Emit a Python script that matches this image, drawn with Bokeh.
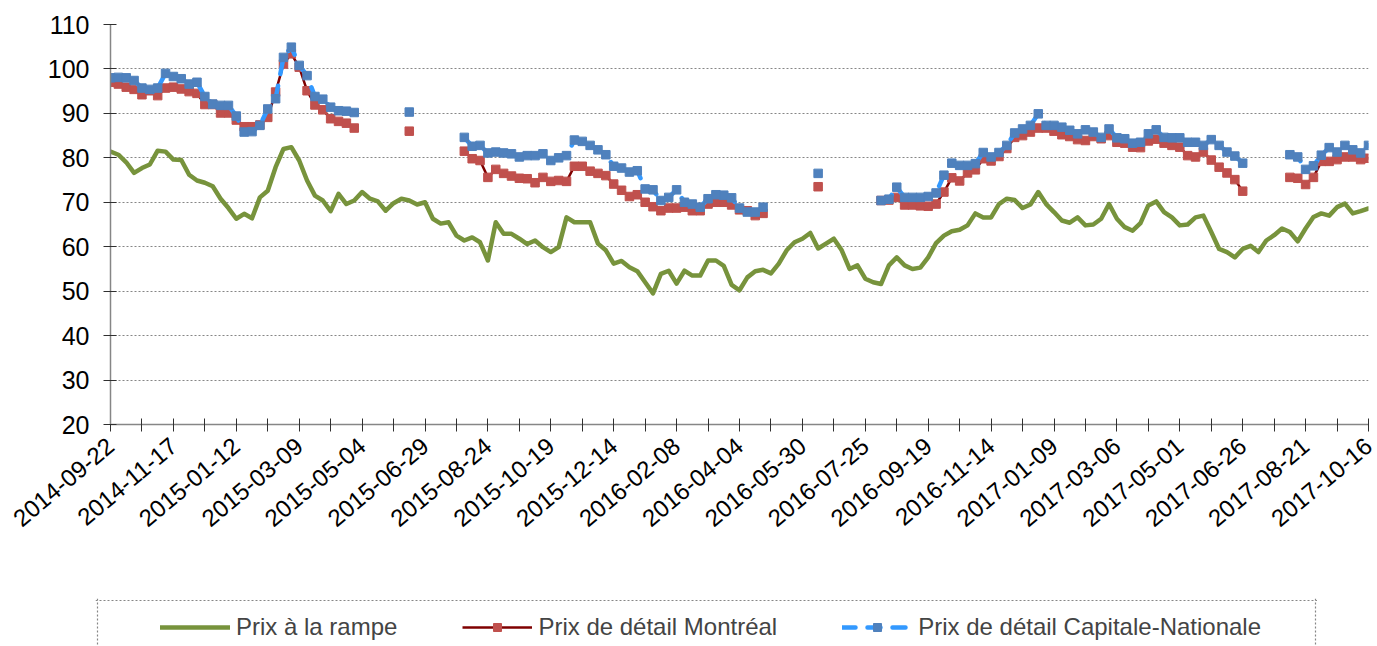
import math
import numpy as np
import pandas as pd
from bokeh.plotting import figure
from bokeh.layouts import column, row
from bokeh.models import (ColumnDataSource, FixedTicker, Legend, LegendItem, Range1d, Spacer,
                          Span)
from bokeh.embed import file_html
from bokeh.resources import INLINE

FONT = "Liberation Sans"

tick_labels = ["2014-09-22", "2014-11-17", "2015-01-12", "2015-03-09", "2015-05-04",
               "2015-06-29", "2015-08-24", "2015-10-19", "2015-12-14", "2016-02-08",
               "2016-04-04", "2016-05-30", "2016-07-25", "2016-09-19", "2016-11-14",
               "2017-01-09", "2017-03-06", "2017-05-01", "2017-06-26", "2017-08-21",
               "2017-10-16"]

series_names = ["Prix à la rampe", "Prix de détail Montréal", "Prix de détail Capitale-Nationale"]

# weekly values, 2014-09-22 .. 2017-10-16
rampe = [81.4, 80.7, 79.0, 76.6, 77.7, 78.5, 81.6, 81.4, 79.6, 79.5,
         76.2, 74.9, 74.4, 73.6, 70.8, 68.7, 66.3, 67.4, 66.4, 71.1,
         72.6, 77.9, 82.0, 82.4, 79.4, 74.9, 71.5, 70.4, 68.0, 71.9,
         69.6, 70.4, 72.3, 70.8, 70.2, 68.1, 69.8, 70.8, 70.4, 69.5,
         70.0, 66.3, 65.2, 65.5, 62.5, 61.4, 62.1, 61.0, 56.9, 65.5,
         62.9, 62.9, 61.8, 60.6, 61.4, 59.9, 58.8, 59.9, 66.6, 65.5,
         65.5, 65.5, 60.7, 59.2, 56.2, 56.8, 55.4, 54.5, 52.0, 49.5,
         53.9, 54.6, 51.7, 54.6, 53.5, 53.5, 56.9, 56.9, 55.7, 51.4,
         50.2, 53.1, 54.5, 54.8, 54.0, 56.2, 59.2, 61.0, 61.8, 63.1,
         59.6, 60.7, 61.8, 59.2, 55.0, 55.8, 52.8, 52.0, 51.6, 55.8,
         57.6, 55.8, 55.0, 55.3, 57.6, 60.8, 62.5, 63.5, 63.8, 64.8,
         67.5, 66.6, 66.6, 69.6, 70.8, 70.5, 68.7, 69.5, 72.3, 69.6,
         67.8, 65.9, 65.4, 66.6, 64.8, 65.0, 66.3, 69.6, 66.3, 64.4,
         63.6, 65.3, 69.3, 70.2, 67.8, 66.6, 64.8, 65.0, 66.6, 67.0,
         63.3, 59.5, 58.8, 57.6, 59.5, 60.2, 58.8, 61.4, 62.6, 64.1,
         63.3, 61.2, 64.1, 66.7, 67.5, 67.0, 68.9, 69.7, 67.5, 68.0,
         68.6]

montreal = [97.0, 96.6, 95.9, 95.4, 94.2, 95.1, 94.0, 95.7, 95.9, 95.5,
            94.9, 94.5, 92.0, 92.0, 90.1, 90.1, 88.5, 87.0, 87.0, 87.4,
            89.1, 94.8, 101.1, 103.4, 100.4, 95.1, 91.9, 90.8, 88.8, 88.2,
            87.8, 86.7, None, None, None, None, None, None, 86.0, None,
            None, None, None, None, None, 81.5, 79.8, 79.4, 75.6, 77.4,
            76.5, 75.9, 75.4, 75.3, 74.4, 75.6, 74.7, 74.9, 74.7, 78.1,
            78.1, 77.0, 76.5, 76.0, 74.1, 72.7, 71.3, 71.7, 70.0, 69.0,
            68.1, 68.7, 68.7, 68.9, 68.1, 68.1, 69.6, 70.0, 70.0, 69.4,
            68.3, 68.1, 67.0, 67.5, None, None, None, None, None, None,
            73.5, None, None, None, None, None, None, None, 70.4, 70.5,
            71.1, 69.4, 69.4, 69.2, 69.1, 69.6, 72.3, 75.5, 74.8, 76.6,
            77.3, 79.8, 79.3, 80.3, 82.1, 84.6, 85.0, 85.8, 86.7, 86.7,
            86.0, 85.2, 84.8, 84.1, 83.9, 84.8, 84.3, 85.0, 83.5, 83.3,
            82.4, 82.3, 83.8, 84.2, 83.3, 82.8, 82.4, 80.5, 80.2, 81.3,
            79.5, 77.9, 76.6, 75.1, 72.5, None, None, None, None, None,
            75.6, 75.4, 74.0, 75.6, 79.2, 79.2, 79.6, 80.2, 80.2, 79.6,
            79.9]

capitale = [98.0, 98.1, 98.0, 97.4, 95.7, 95.4, 95.7, 99.0, 98.3, 97.8,
            96.6, 97.0, 93.8, 92.1, 91.8, 91.8, 89.4, 85.8, 85.9, 87.3,
            91.0, 93.3, 102.6, 104.9, 100.8, 98.5, 93.8, 93.2, 91.4, 90.6,
            90.5, 90.2, None, None, None, None, None, None, 90.3, None,
            None, None, None, None, None, 84.6, 82.6, 82.8, 81.1, 81.3,
            81.1, 80.9, 80.2, 80.5, 80.5, 80.9, 79.4, 80.0, 80.5, 84.0,
            83.7, 82.8, 81.8, 80.7, 78.1, 77.7, 76.8, 77.1, 73.0, 72.8,
            70.4, 71.1, 72.8, 70.0, 69.6, 68.9, 70.8, 71.7, 71.6, 71.0,
            68.7, 67.8, 67.8, 68.9, None, None, None, None, None, None,
            76.5, None, None, None, None, None, None, None, 70.4, 70.7,
            73.4, 71.1, 71.1, 71.1, 71.3, 72.1, 76.1, 78.8, 78.3, 78.3,
            78.7, 81.2, 80.2, 81.2, 82.8, 85.6, 86.5, 87.3, 89.9, 87.3,
            87.3, 86.9, 86.2, 85.4, 86.3, 85.8, 84.6, 86.5, 84.5, 84.3,
            83.3, 83.5, 85.4, 86.3, 84.6, 84.5, 84.5, 83.5, 83.5, 82.8,
            84.1, 82.8, 81.3, 80.4, 78.8, None, None, None, None, None,
            80.7, 80.2, 77.4, 78.2, 80.6, 82.3, 81.3, 82.8, 81.8, 81.1,
            82.8]

dates = pd.date_range("2014-09-22", periods=len(rampe), freq="7D")
src = ColumnDataSource(dict(
    x=np.arange(len(rampe)),
    date=list(dates.strftime("%Y-%m-%d")),
    rampe=np.array(rampe, dtype=float),
    montreal=np.array(montreal, dtype=float),
    capitale=np.array(capitale, dtype=float),
))

GREEN = "#77933C"
RED_LINE = "#7F0000"
RED_MK = "#C0504D"
BLUE_LINE = "#3399FF"
BLUE_MK = "#4F81BD"
AXIS = "#868686"

n = len(rampe) - 1
p = figure(width=1377, height=592, x_range=Range1d(0, n), y_range=Range1d(20, 110),
           output_backend="svg", toolbar_location=None,
           min_border_left=110, min_border_right=9, min_border_top=24, min_border_bottom=168)
p.outline_line_color = None
p.xgrid.visible = False
p.ygrid.grid_line_color = AXIS
p.ygrid.grid_line_dash = "2 2"
p.ygrid.grid_line_width = 1.2

yax = p.yaxis[0]
yax.ticker = FixedTicker(ticks=list(range(20, 111, 10)))
xax = p.xaxis[0]
xax.ticker = FixedTicker(ticks=list(range(0, n + 1, 4)))
xax.major_label_overrides = {i: (tick_labels[i // 8] if i % 8 == 0 else "") for i in range(0, n + 1, 4)}
xax.major_label_orientation = math.radians(40)
for ax in (xax, yax):
    ax.axis_line_color = AXIS
    ax.axis_line_width = 1.5
    ax.major_tick_line_color = "#303030"
    ax.major_tick_in = 6
    ax.major_tick_out = 7
    ax.minor_tick_line_color = None
    ax.major_label_text_font = FONT
    ax.major_label_text_color = "black"
yax.major_label_text_font_size = "25px"
xax.major_label_text_font_size = "24px"
yax.major_label_standoff = 14
xax.major_label_standoff = 11


def draw(fig, **kw):
    g = fig.line("x", "rampe", source=src, color=GREEN, line_width=4.5,
                 line_join="round", line_cap="round", **kw)
    rl = fig.line("x", "montreal", source=src, color=RED_LINE, line_width=2.5, **kw)
    rs = fig.scatter("x", "montreal", source=src, marker="square", size=8.5,
                     fill_color=RED_MK, line_color=RED_MK, **kw)
    bl = fig.line("x", "capitale", source=src, color=BLUE_LINE, line_width=4.5,
                  line_dash="13 12", line_cap="round", line_join="round", **kw)
    bs = fig.scatter("x", "capitale", source=src, marker="square", size=8.5,
                     fill_color=BLUE_MK, line_color=BLUE_MK, **kw)
    return g, rl, rs, bl, bs


draw(p)

# legend panel (pixel-like ranges so the dotted box edges can be placed)
p2 = figure(width=1222, height=48, x_range=Range1d(0, 1222), y_range=Range1d(0, 48),
            output_backend="svg", toolbar_location=None,
            x_axis_location=None, y_axis_location=None,
            min_border_left=0, min_border_right=0, min_border_top=0, min_border_bottom=0)
p2.extra_x_ranges = {"off": Range1d(-1000, -999)}
p2.extra_y_ranges = {"off": Range1d(-1000, -999)}
p2.grid.visible = False
p2.outline_line_color = None
for loc, dim in ((2, "height"), (1220, "height"), (46, "width")):
    p2.add_layout(Span(location=loc, dimension=dim, line_color=AXIS,
                       line_dash="2 2", line_width=1.2))
g, rl, rs, bl, bs = draw(p2, x_range_name="off", y_range_name="off")
legend = Legend(items=[LegendItem(label=series_names[0], renderers=[g]),
                       LegendItem(label=series_names[1], renderers=[rl, rs]),
                       LegendItem(label=series_names[2], renderers=[bl, bs])],
                location=(65, 5), orientation="horizontal",
                glyph_width=70, glyph_height=20, label_standoff=6, spacing=65,
                padding=0, margin=0, border_line_alpha=0, background_fill_alpha=0,
                label_text_font=FONT, label_text_font_size="24px")
p2.add_layout(legend)

layout = column(p, Spacer(width=10, height=6),
                row(Spacer(width=95, height=48), p2, spacing=0), spacing=0)
open("out.html", "w").write(file_html(layout, INLINE))
